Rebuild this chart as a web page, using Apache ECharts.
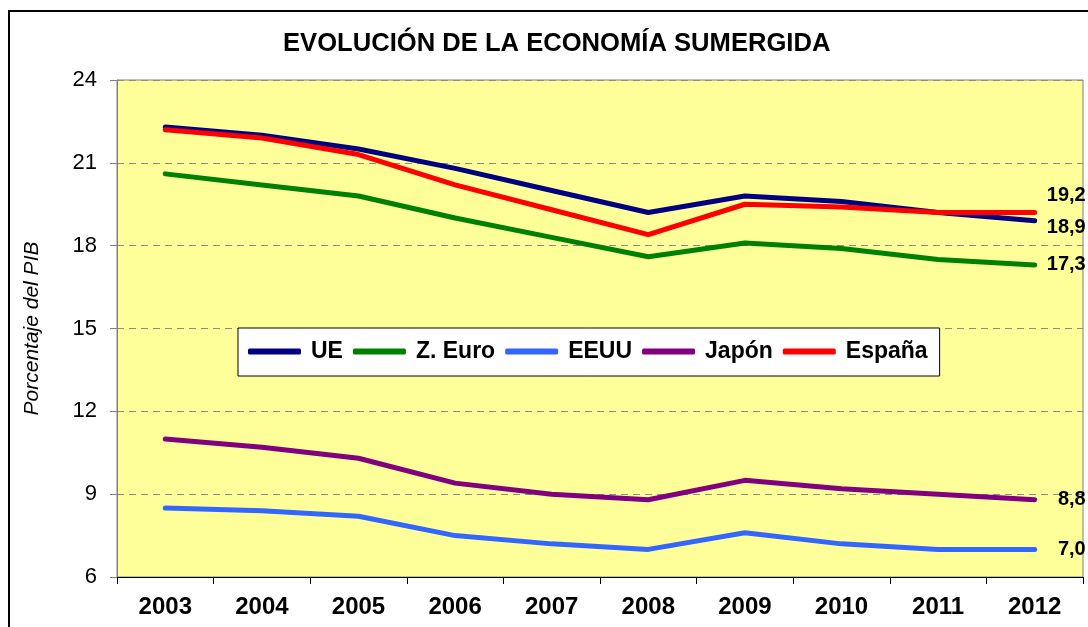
<!DOCTYPE html>
<html>
<head>
<meta charset="utf-8">
<script src="https://cdn.jsdelivr.net/npm/echarts@6/dist/echarts.min.js"></script>
<style>
  html, body { margin: 0; padding: 0; background: #fff; }
  #chart { width: 1088px; height: 627px; }
</style>
</head>
<body>
<div id="chart"></div>
<script>
// datos
const years = ["2003", "2004", "2005", "2006", "2007", "2008", "2009", "2010", "2011", "2012"];
const ue = [22.3, 22.0, 21.5, 20.8, 20.0, 19.2, 19.8, 19.6, 19.2, 18.9];
const zEuro = [20.6, 20.2, 19.8, 19.0, 18.3, 17.6, 18.1, 17.9, 17.5, 17.3];
const eeuu = [8.5, 8.4, 8.2, 7.5, 7.2, 7.0, 7.6, 7.2, 7.0, 7.0];
const japon = [11.0, 10.7, 10.3, 9.4, 9.0, 8.8, 9.5, 9.2, 9.0, 8.8];
const espana = [22.2, 21.9, 21.3, 20.2, 19.3, 18.4, 19.5, 19.4, 19.2, 19.2];
const yTicks = [6, 9, 12, 15, 18, 21, 24];

const font = "'Liberation Sans', Arial, sans-serif";
const myChart = echarts.init(document.getElementById("chart"));

// serie de línea con etiqueta al final
const linea = (name, data, color, dy) => ({
  name: name,
  type: "line",
  data: data,
  symbol: "none",
  smooth: false,
  lineStyle: { color: color, width: 5, cap: "round", join: "round" },
  itemStyle: { color: color },
  endLabel: {
    show: true,
    distance: 51,
    align: "right",
    offset: [0, dy],
    color: "#000",
    fontFamily: font,
    fontWeight: "bold",
    fontSize: 20,
    formatter: (p) => p.value.toFixed(1).replace(".", ",")
  },
  animation: false
});

const option = {
  backgroundColor: "#fff",
  animation: false,
  graphic: [
    {
      type: "rect",
      z: -10,
      shape: { x: 9, y: 11, width: 1100, height: 640 },
      style: { fill: "none", stroke: "#000", lineWidth: 2 }
    }
  ],
  title: {
    text: "EVOLUCIÓN DE LA ECONOMÍA SUMERGIDA",
    left: 283,
    top: 31,
    padding: 0,
    textStyle: { fontFamily: font, fontWeight: "bold", fontSize: 25.6, color: "#000" }
  },
  legend: {
    left: 238,
    top: 328,
    orient: "horizontal",
    backgroundColor: "#fff",
    borderColor: "#000",
    borderWidth: 1,
    borderRadius: 0,
    padding: [12, 12, 13, 10],
    itemGap: 10,
    itemWidth: 53,
    itemHeight: 6,
    icon: "roundRect",
    textStyle: { fontFamily: font, fontWeight: "bold", fontSize: 23, color: "#000", padding: [0, 0, 0, 5] },
    data: ["UE", "Z. Euro", "EEUU", "Japón", "España"]
  },
  grid: {
    left: 117,
    right: 5,
    top: 80,
    bottom: 50,
    show: true,
    backgroundColor: "#FFFF99",
    borderColor: "#808080",
    borderWidth: 1
  },
  xAxis: {
    type: "category",
    data: years,
    boundaryGap: true,
    axisLine: { lineStyle: { color: "#000", width: 1 } },
    axisTick: { show: true, length: 7, lineStyle: { color: "#000" } },
    axisLabel: { margin: 18, color: "#000", fontFamily: font, fontWeight: "bold", fontSize: 24 }
  },
  yAxis: {
    type: "value",
    min: yTicks[0],
    max: yTicks[yTicks.length - 1],
    interval: 3,
    name: "Porcentaje del PIB",
    nameLocation: "middle",
    nameGap: 74,
    nameTextStyle: { fontFamily: font, fontStyle: "italic", fontSize: 21, color: "#000" },
    axisLine: { show: true, lineStyle: { color: "#808080", width: 1 } },
    axisTick: { show: true, length: 7, lineStyle: { color: "#808080" } },
    axisLabel: { margin: 20, color: "#000", fontFamily: font, fontSize: 22 },
    splitLine: { show: true, lineStyle: { color: "#8c8c8c", type: [7, 5], width: 1 } }
  },
  series: [
    linea("UE", ue, "#000080", 7),
    linea("Z. Euro", zEuro, "#008000", -1),
    linea("EEUU", eeuu, "#3366FF", 0),
    linea("Japón", japon, "#800080", 0),
    linea("España", espana, "#FF0000", -17)
  ]
};

myChart.setOption(option);
</script>
</body>
</html>
